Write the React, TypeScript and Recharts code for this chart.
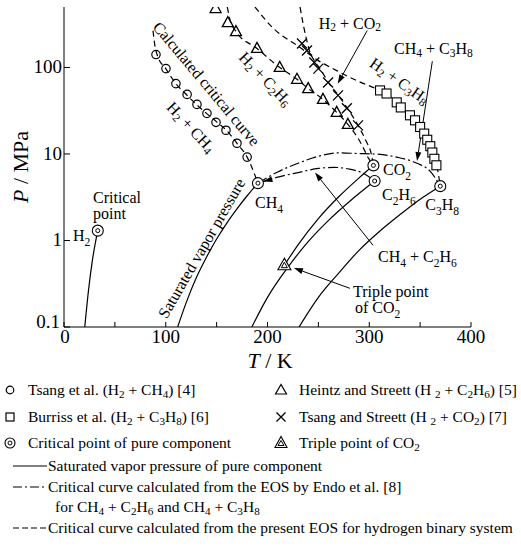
import React from "react";
import {
  ComposedChart,
  Line,
  Scatter,
  XAxis,
  YAxis,
  ReferenceDot,
  ReferenceLine,
} from "recharts";

const FONT = '"Liberation Serif", "Times New Roman", serif';

// saturated vapour pressure of pure components (T / K, P / MPa)
const h2Sat = [
  { t: 20.4, p: 0.1 },
  { t: 24, p: 0.26 },
  { t: 28, p: 0.6 },
  { t: 33.2, p: 1.3 },
];
const ch4Sat = [
  { t: 111.7, p: 0.1 },
  { t: 120, p: 0.19 },
  { t: 130, p: 0.37 },
  { t: 140, p: 0.64 },
  { t: 150, p: 1.04 },
  { t: 160, p: 1.59 },
  { t: 170, p: 2.32 },
  { t: 180, p: 3.29 },
  { t: 190.6, p: 4.6 },
];
const c2h6Sat = [
  { t: 184.6, p: 0.1 },
  { t: 200, p: 0.22 },
  { t: 220, p: 0.49 },
  { t: 240, p: 0.97 },
  { t: 260, p: 1.71 },
  { t: 280, p: 2.79 },
  { t: 305.3, p: 4.87 },
];
const co2Sat = [
  { t: 216.6, p: 0.518 },
  { t: 230, p: 0.89 },
  { t: 250, p: 1.79 },
  { t: 270, p: 3.2 },
  { t: 290, p: 5.3 },
  { t: 304.1, p: 7.38 },
];
const c3h8Sat = [
  { t: 231, p: 0.1 },
  { t: 250, p: 0.22 },
  { t: 270, p: 0.42 },
  { t: 290, p: 0.77 },
  { t: 310, p: 1.27 },
  { t: 330, p: 1.98 },
  { t: 350, p: 3.0 },
  { t: 369.8, p: 4.25 },
];

// critical curves, Endo et al. EOS
const endoCH4C2H6 = [
  { t: 190.6, p: 4.6 },
  { t: 210, p: 5.4 },
  { t: 230, p: 6.1 },
  { t: 250, p: 6.8 },
  { t: 265, p: 7.0 },
  { t: 280, p: 6.7 },
  { t: 295, p: 5.9 },
  { t: 305.3, p: 4.87 },
];
const endoCH4C3H8 = [
  { t: 190.6, p: 4.6 },
  { t: 210, p: 6.2 },
  { t: 230, p: 7.8 },
  { t: 250, p: 9.4 },
  { t: 270, p: 10.3 },
  { t: 290, p: 10.1 },
  { t: 305, p: 10.0 },
  { t: 327, p: 9.2 },
  { t: 347, p: 7.8 },
  { t: 360, p: 6.3 },
  { t: 369.8, p: 4.25 },
];

// critical curves, present EOS (hydrogen binaries)
const calcH2CH4 = [
  { t: 87.5, p: 267 },
  { t: 89, p: 190 },
  { t: 92, p: 135 },
  { t: 100, p: 97 },
  { t: 110, p: 65 },
  { t: 120, p: 49 },
  { t: 130, p: 37.5 },
  { t: 140, p: 29.5 },
  { t: 150, p: 23.5 },
  { t: 160, p: 18.6 },
  { t: 170, p: 13.3 },
  { t: 180, p: 9.2 },
  { t: 190.6, p: 4.6 },
];
const calcH2C2H6 = [
  { t: 160.5, p: 500 },
  { t: 163, p: 360 },
  { t: 169, p: 262 },
  { t: 189.7, p: 166 },
  { t: 212, p: 100 },
  { t: 229, p: 73 },
  { t: 240, p: 57 },
  { t: 254.5, p: 42.8 },
  { t: 268, p: 30.3 },
  { t: 279, p: 22 },
  { t: 290, p: 14.5 },
  { t: 298, p: 9.5 },
  { t: 303, p: 7 },
  { t: 305.3, p: 4.87 },
];
const calcH2CO2 = [
  { t: 232, p: 500 },
  { t: 235, p: 320 },
  { t: 238, p: 220 },
  { t: 241, p: 160 },
  { t: 247, p: 115 },
  { t: 252, p: 95 },
  { t: 260, p: 67 },
  { t: 270, p: 47 },
  { t: 279, p: 33 },
  { t: 289, p: 21.4 },
  { t: 297, p: 14 },
  { t: 302, p: 10 },
  { t: 304.1, p: 7.38 },
];
const calcH2C3H8 = [
  { t: 187.7, p: 500 },
  { t: 205, p: 289 },
  { t: 232, p: 170 },
  { t: 250, p: 120 },
  { t: 268, p: 92 },
  { t: 286, p: 72 },
  { t: 303.7, p: 58.8 },
  { t: 317, p: 50 },
  { t: 331, p: 34.5 },
  { t: 345, p: 24.5 },
  { t: 354, p: 17.5 },
  { t: 360, p: 12.5 },
  { t: 364, p: 9 },
  { t: 367.5, p: 6.3 },
  { t: 369.8, p: 4.25 },
];

// experimental critical points of the mixtures
const tsangH2CH4 = [
  { t: 90.4, p: 141 },
  { t: 100.2, p: 97 },
  { t: 110, p: 65 },
  { t: 121, p: 48.8 },
  { t: 130.7, p: 37.4 },
  { t: 140.5, p: 29.5 },
  { t: 149.4, p: 23.2 },
  { t: 159.2, p: 18.8 },
  { t: 170, p: 13.3 },
  { t: 180, p: 9.2 },
];
const heintzH2C2H6 = [
  { t: 149, p: 480 },
  { t: 161, p: 330 },
  { t: 169, p: 260 },
  { t: 189.7, p: 166 },
  { t: 212, p: 100 },
  { t: 229, p: 73 },
  { t: 240, p: 57 },
  { t: 254.5, p: 42.8 },
  { t: 268, p: 30.3 },
  { t: 279, p: 22 },
];
const burrissH2C3H8 = [
  { t: 310.6, p: 54.3 },
  { t: 317, p: 50 },
  { t: 327, p: 39.5 },
  { t: 331, p: 34.5 },
  { t: 340, p: 28 },
  { t: 345, p: 24.5 },
  { t: 350, p: 20.5 },
  { t: 354, p: 17.2 },
  { t: 357, p: 14.6 },
  { t: 360, p: 12.3 },
  { t: 362, p: 10.4 },
  { t: 364, p: 8.8 },
  { t: 366, p: 7.4 },
];
const tsangH2CO2 = [
  { t: 233.9, p: 189 },
  { t: 238.8, p: 157 },
  { t: 246, p: 114 },
  { t: 250, p: 97 },
  { t: 259.5, p: 67 },
  { t: 269.3, p: 47.6 },
  { t: 278, p: 33.7 },
  { t: 289, p: 21.4 },
];

const criticalPoints = [
  { t: 33.2, p: 1.3 },
  { t: 190.6, p: 4.6 },
  { t: 304.1, p: 7.38 },
  { t: 305.3, p: 4.87 },
  { t: 369.8, p: 4.25 },
];
const triplePoint = [{ t: 216.6, p: 0.518 }];

const xTicks = [0, 50, 100, 150, 200, 250, 300, 350, 400];
const yTicks = [0.1, 1, 10, 100];

// annotation text anchored in data units
const notes = [
  { t: 140.5, p: 65.4, text: "Calculated critical curve", rot: 50 },
  { t: 125.3, p: 20.6, text: "H_2 + CH_4", rot: 47 },
  { t: 198.5, p: 74.6, text: "H_2 + C_2H_6", rot: 46 },
  { t: 330, p: 70.8, text: "H_2 + C_3H_8", rot: 35 },
  { t: 281, p: 330, text: "H_2 + CO_2", rot: 0 },
  { t: 363, p: 166, text: "CH_4 + C_3H_8", rot: 0 },
  { t: 134.7, p: 0.82, text: "Saturated vapor pressure", rot: -60 },
  { t: 28.5, p: 2.7, text: "Critical", start: true },
  { t: 28.5, p: 1.77, text: "point", start: true },
  { t: 8.8, p: 0.98, text: "H_2", start: true },
  { t: 187.7, p: 2.38, text: "CH_4", start: true },
  { t: 313.5, p: 5.68, text: "CO_2", start: true },
  { t: 312.5, p: 2.93, text: "C_2H_6", start: true },
  { t: 355, p: 2.25, text: "C_3H_8", start: true },
  { t: 308.6, p: 0.565, text: "CH_4 + C_2H_6", start: true },
  { t: 284, p: 0.22, text: "Triple point", start: true },
  { t: 286, p: 0.146, text: "of CO_2", start: true },
];

const arrows = [
  { t1: 298, p1: 267, t2: 269, p2: 65 },
  { t1: 362, p1: 118, t2: 347, p2: 8.3 },
  { t1: 303.7, p1: 0.88, t2: 246.7, p2: 6.1 },
  { t1: 281, p1: 0.28, t2: 226, p2: 0.48 },
  { t1: 204, p1: 5.1, t2: 196, p2: 4.8 },
];

function svgRich(s: string, fs: number) {
  const parts = s.split(/_(\d)/);
  const out: any[] = [];
  let shifted = false;
  parts.forEach((part, i) => {
    if (i % 2 === 1) {
      out.push(
        <tspan key={i} dy={fs * 0.3} fontSize={fs * 0.72}>
          {part}
        </tspan>
      );
      shifted = true;
    } else if (part) {
      out.push(
        <tspan key={i} dy={shifted ? -fs * 0.3 : 0} fontSize={fs}>
          {part}
        </tspan>
      );
      shifted = false;
    }
  });
  return out;
}

function htmlRich(s: string) {
  const parts = s.split(/_(\d)/);
  return parts.map((part, i) =>
    i % 2 === 1 ? (
      <sub key={i} style={{ fontSize: "0.72em", verticalAlign: "-0.3em", lineHeight: 0 }}>
        {part}
      </sub>
    ) : (
      <span key={i}>{part}</span>
    )
  );
}

const BottomTick = (props: any) => {
  const { x, y, payload } = props;
  const v = payload.value;
  return (
    <g>
      <line x1={x} y1={y} x2={x} y2={y - 5} stroke="#000" />
      {v % 100 === 0 && (
        <text x={x + (v === 0 ? 1 : 0)} y={y + 16} textAnchor="middle" fontSize={19} fontFamily={FONT} fill="#000">
          {v}
        </text>
      )}
    </g>
  );
};
const TopTick = (props: any) => {
  const { x, y } = props;
  return <line x1={x} y1={y} x2={x} y2={y + 5} stroke="#000" />;
};
const LeftTick = (props: any) => {
  const { x, y, payload } = props;
  const v = payload.value;
  const low = v === 0.1;
  return (
    <g>
      <line x1={x} y1={y} x2={x + 6} y2={y} stroke="#000" />
      <text
        x={x - (low ? 4 : 2)}
        y={y + (low ? 1 : 6)}
        textAnchor="end"
        fontSize={19}
        fontFamily={FONT}
        fill="#000"
      >
        {v}
      </text>
    </g>
  );
};
const RightTick = (props: any) => {
  const { x, y } = props;
  return <line x1={x} y1={y} x2={x - 6} y2={y} stroke="#000" />;
};

const OpenCircle = (p: any) => (
  <circle cx={p.cx} cy={p.cy} r={4.2} fill="none" stroke="#000" strokeWidth={1.2} />
);
const OpenTriangle = (p: any) => (
  <polygon
    points={`${p.cx},${p.cy - 6} ${p.cx - 5.5},${p.cy + 4} ${p.cx + 5.5},${p.cy + 4}`}
    fill="none"
    stroke="#000"
    strokeWidth={1.3}
  />
);
const OpenSquare = (p: any) => (
  <rect x={p.cx - 4.5} y={p.cy - 4.5} width={9} height={9} fill="#fff" stroke="#000" strokeWidth={1.1} />
);
const Cross = (p: any) => (
  <path
    d={`M${p.cx - 5},${p.cy - 5}L${p.cx + 5},${p.cy + 5}M${p.cx + 5},${p.cy - 5}L${p.cx - 5},${p.cy + 5}`}
    stroke="#000"
    strokeWidth={1.3}
  />
);
const CritPoint = (p: any) => (
  <g>
    <circle cx={p.cx} cy={p.cy} r={5.5} fill="#fff" stroke="#000" strokeWidth={1.1} />
    <circle cx={p.cx} cy={p.cy} r={2} fill="none" stroke="#000" strokeWidth={1} />
  </g>
);
const TriplePt = (p: any) => (
  <g>
    <polygon
      points={`${p.cx},${p.cy - 7} ${p.cx - 6.5},${p.cy + 4.5} ${p.cx + 6.5},${p.cy + 4.5}`}
      fill="#fff"
      stroke="#000"
      strokeWidth={1.1}
    />
    <polygon
      points={`${p.cx},${p.cy - 3} ${p.cx - 3},${p.cy + 2.5} ${p.cx + 3},${p.cy + 2.5}`}
      fill="none"
      stroke="#000"
      strokeWidth={1}
    />
  </g>
);

const Arrow = (p: any) => {
  const { x1, y1, x2, y2 } = p;
  const a = Math.atan2(y2 - y1, x2 - x1);
  const L = 9;
  const W = 3;
  const bx = x2 - L * Math.cos(a);
  const by = y2 - L * Math.sin(a);
  const px = -Math.sin(a) * W;
  const py = Math.cos(a) * W;
  return (
    <g>
      <line x1={x1} y1={y1} x2={bx} y2={by} stroke="#000" strokeWidth={1} />
      <polygon points={`${x2},${y2} ${bx + px},${by + py} ${bx - px},${by - py}`} fill="#000" />
    </g>
  );
};

const lineProps = {
  type: "monotone" as const,
  dataKey: "p",
  stroke: "#000",
  strokeWidth: 1.2,
  dot: false,
  activeDot: false,
  isAnimationActive: false,
};

const DASH = "6 4";
const DASHDOT = "10 3 2 3";

function LegendSym({ x, y, children }: any) {
  return (
    <svg
      width={14}
      height={14}
      style={{ position: "absolute", left: x - 7, top: y - 7, overflow: "visible" }}
    >
      {children}
    </svg>
  );
}

function LegendText({ x, y, text }: any) {
  return (
    <div
      style={{
        position: "absolute",
        left: x,
        top: y - 9,
        fontSize: 15.5,
        lineHeight: "18px",
        whiteSpace: "nowrap",
      }}
    >
      {htmlRich(text)}
    </div>
  );
}

function LegendLine({ y, dash }: any) {
  return (
    <svg width={36} height={4} style={{ position: "absolute", left: 13, top: y - 2 }}>
      <line x1={0} y1={2} x2={34} y2={2} stroke="#000" strokeWidth={1.2} strokeDasharray={dash} />
    </svg>
  );
}

export default function App() {
  return (
    <div
      style={{
        position: "absolute",
        left: 0,
        top: 0,
        width: 521,
        height: 546,
        overflow: "hidden",
        background: "#fff",
        fontFamily: FONT,
        color: "#000",
      }}
    >
      <ComposedChart
        width={521}
        height={546}
        margin={{ top: 7, right: 50, bottom: 189, left: 0 }}
        style={{ fontFamily: FONT }}
      >
        <XAxis
          dataKey="t"
          type="number"
          domain={[0, 400]}
          ticks={xTicks}
          interval={0}
          height={30}
          tickSize={0}
          tickMargin={0}
          tickLine={false}
          axisLine={{ stroke: "#000" }}
          tick={BottomTick}
          allowDataOverflow
        />
        <XAxis
          xAxisId="top"
          orientation="top"
          type="number"
          domain={[0, 400]}
          ticks={xTicks}
          interval={0}
          height={0}
          tickSize={0}
          tickMargin={0}
          tickLine={false}
          axisLine={{ stroke: "#000" }}
          tick={TopTick}
          allowDataOverflow
        />
        <YAxis
          dataKey="p"
          type="number"
          scale="log"
          domain={[0.1, 500]}
          ticks={yTicks}
          interval={0}
          width={64}
          tickSize={0}
          tickMargin={0}
          tickLine={false}
          axisLine={{ stroke: "#000" }}
          tick={LeftTick}
          allowDataOverflow
        />
        <YAxis
          yAxisId="right"
          orientation="right"
          type="number"
          scale="log"
          domain={[0.1, 500]}
          ticks={yTicks}
          interval={0}
          width={0}
          tickSize={0}
          tickMargin={0}
          tickLine={false}
          axisLine={{ stroke: "#000" }}
          tick={RightTick}
          allowDataOverflow
        />

        <Line data={h2Sat} {...lineProps} />
        <Line data={ch4Sat} {...lineProps} />
        <Line data={c2h6Sat} {...lineProps} />
        <Line data={co2Sat} {...lineProps} />
        <Line data={c3h8Sat} {...lineProps} />

        <Line data={endoCH4C2H6} {...lineProps} strokeDasharray={DASHDOT} />
        <Line data={endoCH4C3H8} {...lineProps} strokeDasharray={DASHDOT} />

        <Line data={calcH2CH4} {...lineProps} strokeDasharray={DASH} />
        <Line data={calcH2C2H6} {...lineProps} strokeDasharray={DASH} />
        <Line data={calcH2CO2} {...lineProps} strokeDasharray={DASH} />
        <Line data={calcH2C3H8} {...lineProps} strokeDasharray={DASH} />

        <Scatter data={tsangH2CH4} dataKey="p" shape={OpenCircle} isAnimationActive={false} />
        <Scatter data={heintzH2C2H6} dataKey="p" shape={OpenTriangle} isAnimationActive={false} />
        <Scatter data={tsangH2CO2} dataKey="p" shape={Cross} isAnimationActive={false} />
        <Scatter data={burrissH2C3H8} dataKey="p" shape={OpenSquare} isAnimationActive={false} />
        <Scatter data={criticalPoints} dataKey="p" shape={CritPoint} isAnimationActive={false} />
        <Scatter data={triplePoint} dataKey="p" shape={TriplePt} isAnimationActive={false} />

        {arrows.map((a, i) => (
          <ReferenceLine
            key={"a" + i}
            segment={[
              { x: a.t1, y: a.p1 },
              { x: a.t2, y: a.p2 },
            ]}
            shape={Arrow}
            ifOverflow="visible"
          />
        ))}

        {notes.map((n, i) => (
          <ReferenceDot
            key={"n" + i}
            x={n.t}
            y={n.p}
            r={0}
            ifOverflow="visible"
            shape={(p: any) => (
              <text
                x={p.cx}
                y={p.cy}
                textAnchor={n.start ? "start" : "middle"}
                dominantBaseline={n.start ? "alphabetic" : "central"}
                transform={n.rot ? `rotate(${n.rot} ${p.cx} ${p.cy})` : undefined}
                fontFamily={FONT}
                fontSize={16}
                fill="#000"
              >
                {svgRich(n.text, 16)}
              </text>
            )}
          />
        ))}
      </ComposedChart>

      {/* axis titles */}
      <div
        style={{
          position: "absolute",
          left: 21,
          top: 167,
          transform: "translate(-50%, -50%) rotate(-90deg)",
          fontSize: 22,
          whiteSpace: "nowrap",
        }}
      >
        <i>P</i> / MPa
      </div>
      <div
        style={{
          position: "absolute",
          left: 270,
          top: 349,
          transform: "translateX(-50%)",
          fontSize: 22,
          lineHeight: "24px",
          whiteSpace: "nowrap",
        }}
      >
        <i>T</i> / K
      </div>

      {/* legend */}
      <LegendSym x={10} y={390}>
        <circle cx={7} cy={7} r={3.8} fill="none" stroke="#000" strokeWidth={1.2} />
      </LegendSym>
      <LegendText x={28} y={390} text="Tsang et al. (H_2 + CH_4) [4]" />
      <LegendSym x={281} y={390}>
        <polygon points="7,1.5 1.5,11 12.5,11" fill="none" stroke="#000" strokeWidth={1.2} />
      </LegendSym>
      <LegendText x={299} y={390} text="Heintz and Streett (H _2 + C_2H_6) [5]" />

      <LegendSym x={10} y={417}>
        <rect x={3} y={3} width={8} height={8} fill="none" stroke="#000" strokeWidth={1.2} />
      </LegendSym>
      <LegendText x={28} y={417} text="Burriss et al. (H_2 + C_3H_8) [6]" />
      <LegendSym x={281} y={417}>
        <path d="M2.5,2.5L11.5,11.5M11.5,2.5L2.5,11.5" stroke="#000" strokeWidth={1.3} />
      </LegendSym>
      <LegendText x={299} y={417} text="Tsang and Streett (H _2 + CO_2) [7]" />

      <LegendSym x={10} y={443}>
        <circle cx={7} cy={7} r={5} fill="none" stroke="#000" strokeWidth={1.1} />
        <circle cx={7} cy={7} r={2} fill="none" stroke="#000" strokeWidth={1} />
      </LegendSym>
      <LegendText x={28} y={443} text="Critical point of pure component" />
      <LegendSym x={281} y={443}>
        <polygon points="7,0.5 1,11.5 13,11.5" fill="none" stroke="#000" strokeWidth={1.1} />
        <polygon points="7,4.5 4,9.5 10,9.5" fill="none" stroke="#000" strokeWidth={1} />
      </LegendSym>
      <LegendText x={299} y={443} text="Triple point of CO_2" />

      <LegendLine y={466} />
      <LegendText x={48} y={466} text="Saturated vapor pressure of pure component" />
      <LegendLine y={487} dash="9 3 2 3" />
      <LegendText x={48} y={487} text="Critical curve calculated from the EOS by Endo et al. [8]" />
      <LegendText x={55} y={507} text="for CH_4 + C_2H_6 and CH_4 + C_3H_8" />
      <LegendLine y={528} dash="6 3" />
      <LegendText x={48} y={528} text="Critical curve calculated from the present EOS for hydrogen binary system" />
    </div>
  );
}
